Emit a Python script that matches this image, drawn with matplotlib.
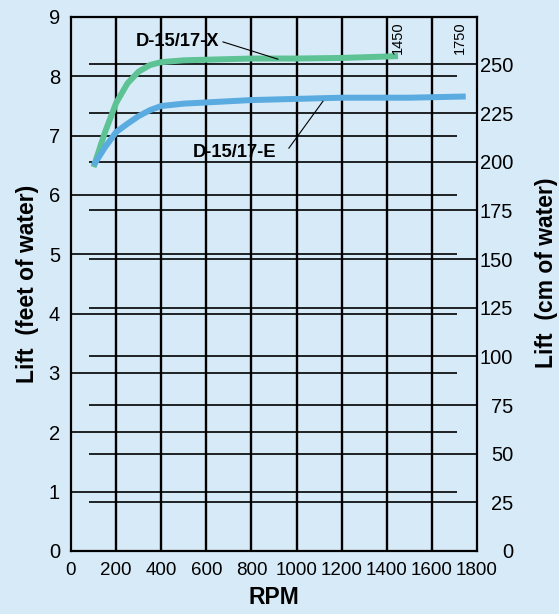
import numpy as np
import matplotlib
matplotlib.use("Agg")
import matplotlib.pyplot as plt

# Curve data (RPM, lift in feet of water)
rpm_x = [100, 150, 200, 250, 300, 350, 400, 500, 600, 800, 1000, 1200, 1450]
lift_x = [6.47, 7.05, 7.55, 7.88, 8.08, 8.19, 8.24, 8.27, 8.28, 8.30, 8.30, 8.31, 8.34]

rpm_e = [100, 150, 200, 250, 300, 350, 400, 500, 600, 800, 1000, 1200, 1500, 1750]
lift_e = [6.5, 6.8, 7.06, 7.2, 7.33, 7.43, 7.5, 7.54, 7.56, 7.6, 7.62, 7.64, 7.64, 7.66]

x_ticks = [0, 200, 400, 600, 800, 1000, 1200, 1400, 1600, 1800]
ft_ticks = [0, 1, 2, 3, 4, 5, 6, 7, 8, 9]
cm_ticks = [0, 25, 50, 75, 100, 125, 150, 175, 200, 225, 250]

CM_PER_FT = 30.48
BG = '#D7EAF8'
GREEN = '#5DC294'
BLUE = '#5AABE0'

plt.rcParams['font.family'] = ['Liberation Sans', 'DejaVu Sans']

fig = plt.figure(figsize=(5.59, 6.14), dpi=100, facecolor=BG)
ax = fig.add_axes([71 / 559, 1 - 551 / 614, 406 / 559, 534 / 614])
ax.set_facecolor(BG)
ax.set_xlim(0, 1800)
ax.set_ylim(0, 9)

# grid: feet lines stop short of the right axis, cm lines start past the left axis
ax.hlines(ft_ticks[1:-1], 0, 1710, color='black', lw=1.2, zorder=1)
cm_in_ft = [c / CM_PER_FT for c in cm_ticks[1:]]
ax.hlines(cm_in_ft, 80, 1800, color='black', lw=1.2, zorder=1)
ax.vlines(x_ticks[1:-1], 0, 9, color='black', lw=1.7, zorder=1)

for s in ax.spines.values():
    s.set_linewidth(1.6)

# curves
ax.plot(rpm_x, lift_x, color=GREEN, lw=4.3, solid_capstyle='butt', zorder=3)
ax.plot(rpm_e, lift_e, color=BLUE, lw=4.3, solid_capstyle='butt', zorder=3)

# labels with leader lines
ax.text(474, 8.58, 'D-15/17-X', ha='center', va='center', fontsize=13.2,
        fontweight='bold', zorder=4)
ax.plot([674, 917], [8.58, 8.29], color='black', lw=0.8, zorder=4)
ax.text(723, 6.72, 'D-15/17-E', ha='center', va='center', fontsize=13.2,
        fontweight='bold', zorder=4)
ax.plot([966, 1117], [6.79, 7.58], color='black', lw=0.8, zorder=4)

ax.text(1450, 8.65, '1450', rotation=90, ha='center', va='center', fontsize=10.5)
ax.text(1725, 8.65, '1750', rotation=90, ha='center', va='center', fontsize=10.5)

ax.set_xticks(x_ticks)
ax.set_yticks(ft_ticks)
ax.tick_params(axis='both', length=0)
ax.tick_params(axis='x', pad=8, labelsize=13.5)
ax.tick_params(axis='y', pad=8, labelsize=14.5)

ax.set_xlabel('RPM', fontsize=16.5, fontweight='bold', labelpad=5)
ax.set_ylabel('Lift  (feet of water)', fontsize=16.5, fontweight='bold')
ax.yaxis.label.set_va('center')
ax.yaxis.set_label_coords(-0.106, 0.5)

ax2 = ax.twinx()
ax2.set_ylim(0, 9 * CM_PER_FT)
ax2.set_yticks(cm_ticks)
ax2.tick_params(axis='y', length=0, labelsize=14.5, pad=26)
for lab in ax2.get_yticklabels():
    lab.set_horizontalalignment('right')
for s in ax2.spines.values():
    s.set_visible(False)
ax2.set_ylabel('Lift  (cm of water)', fontsize=16.5, fontweight='bold')
ax2.yaxis.label.set_va('center')
ax2.yaxis.set_label_coords(1.17, 0.522)

fig.savefig('out.png', dpi=100, facecolor=BG)
